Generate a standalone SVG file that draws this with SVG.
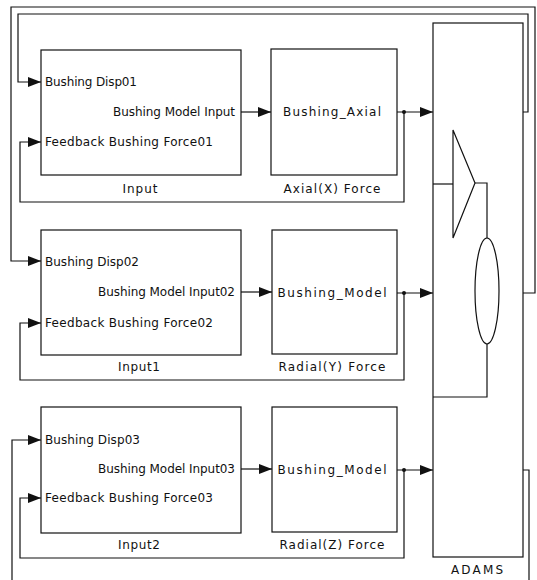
<svg xmlns="http://www.w3.org/2000/svg" width="537" height="580" viewBox="0 0 537 580">
  <style>
    .blk { fill: #fff; stroke: #111; stroke-width: 1.2; }
    .wire { fill: none; stroke: #111; stroke-width: 1.2; }
    .arr { fill: none; stroke: #111; stroke-width: 1.2; marker-end: url(#head); }
    .t { font-family: "DejaVu Sans", "Liberation Sans", sans-serif; font-size: 12px; fill: #111; }
    .c { text-anchor: middle; }
    .e { text-anchor: end; }
  </style>
  <defs>
    <marker id="head" viewBox="0 0 13 10" refX="13" refY="5" markerWidth="13" markerHeight="10" markerUnits="userSpaceOnUse" orient="auto">
      <path d="M0,0 L13,5 L0,10 Z" fill="#111"/>
    </marker>
  </defs>

  <rect width="537" height="580" fill="#fff"/>

  <!-- connectors -->
  <g id="connectors">
    <!-- block outputs into force models -->
    <line class="arr" x1="241" y1="112" x2="271" y2="112"/>
    <line class="arr" x1="241" y1="292" x2="272" y2="292"/>
    <line class="arr" x1="241" y1="469" x2="272" y2="469"/>
    <!-- force models into ADAMS -->
    <line class="arr" x1="397" y1="112" x2="433" y2="112"/>
    <line class="arr" x1="397" y1="293" x2="433" y2="293"/>
    <line class="arr" x1="397" y1="470" x2="433" y2="470"/>
    <!-- force feedback loops -->
    <polyline class="arr" points="404,112 404,202 20,202 20,142 41,142"/>
    <polyline class="arr" points="404,293 404,380 20,380 20,323 41,323"/>
    <polyline class="arr" points="404,470 404,558 20,558 20,498 41,498"/>
    <circle cx="404" cy="112" r="2" fill="#111"/>
    <circle cx="404" cy="293" r="2" fill="#111"/>
    <circle cx="404" cy="470" r="2" fill="#111"/>
    <!-- displacement returns from ADAMS -->
    <polyline class="arr" points="523,112 528,112 528,14 18,14 18,82 41,82"/>
    <polyline class="arr" points="499,293 535,293 535,7 11,7 11,261 41,261"/>
    <polyline class="wire" points="523,470 529,470 529,580"/>
    <polyline class="arr" points="12,580 12,440 41,440"/>
  </g>

  <!-- row 1 -->
  <g id="input">
    <rect class="blk" x="41" y="50" width="200" height="125"/>
    <text class="t" x="45" y="86" textLength="92" lengthAdjust="spacing">Bushing Disp01</text>
    <text class="t e" x="235" y="116" textLength="122" lengthAdjust="spacing">Bushing Model Input</text>
    <text class="t" x="45" y="146" textLength="168" lengthAdjust="spacing">Feedback Bushing Force01</text>
    <text class="t c" x="140" y="193" textLength="35" lengthAdjust="spacing">Input</text>
  </g>
  <g id="axial-force">
    <rect class="blk" x="271" y="49" width="126" height="126"/>
    <text class="t c" x="332" y="116" textLength="98" lengthAdjust="spacing">Bushing_Axial</text>
    <text class="t c" x="332" y="193" textLength="97" lengthAdjust="spacing">Axial(X) Force</text>
  </g>

  <!-- row 2 -->
  <g id="input1">
    <rect class="blk" x="41" y="230" width="200" height="125"/>
    <text class="t" x="45" y="266" textLength="94" lengthAdjust="spacing">Bushing Disp02</text>
    <text class="t e" x="235" y="296" textLength="137" lengthAdjust="spacing">Bushing Model Input02</text>
    <text class="t" x="45" y="327" textLength="168" lengthAdjust="spacing">Feedback Bushing Force02</text>
    <text class="t c" x="139" y="371" textLength="42" lengthAdjust="spacing">Input1</text>
  </g>
  <g id="radial-y-force">
    <rect class="blk" x="272" y="230" width="125" height="124"/>
    <text class="t c" x="332" y="297" textLength="109" lengthAdjust="spacing">Bushing_Model</text>
    <text class="t c" x="332" y="371" textLength="107" lengthAdjust="spacing">Radial(Y) Force</text>
  </g>

  <!-- row 3 -->
  <g id="input2">
    <rect class="blk" x="41" y="407" width="200" height="126"/>
    <text class="t" x="45" y="444" textLength="95" lengthAdjust="spacing">Bushing Disp03</text>
    <text class="t e" x="235" y="473" textLength="137" lengthAdjust="spacing">Bushing Model Input03</text>
    <text class="t" x="45" y="502" textLength="168" lengthAdjust="spacing">Feedback Bushing Force03</text>
    <text class="t c" x="139" y="549" textLength="42" lengthAdjust="spacing">Input2</text>
  </g>
  <g id="radial-z-force">
    <rect class="blk" x="272" y="407" width="125" height="125"/>
    <text class="t c" x="332" y="474" textLength="109" lengthAdjust="spacing">Bushing_Model</text>
    <text class="t c" x="332" y="549" textLength="105" lengthAdjust="spacing">Radial(Z) Force</text>
  </g>

  <!-- ADAMS plant block with its icon -->
  <g id="adams">
    <rect class="blk" x="433" y="23" width="90" height="534"/>
    <polyline class="wire" points="433,184 453,184"/>
    <polygon class="wire" points="453,130 475,183 453,238"/>
    <polyline class="wire" points="475,183 487,183 487,238"/>
    <ellipse class="wire" cx="487" cy="291" rx="12" ry="53"/>
    <polyline class="wire" points="487,344 487,397 433,397"/>
    <text class="t c" x="477" y="574" textLength="52" lengthAdjust="spacing">ADAMS</text>
  </g>
</svg>
